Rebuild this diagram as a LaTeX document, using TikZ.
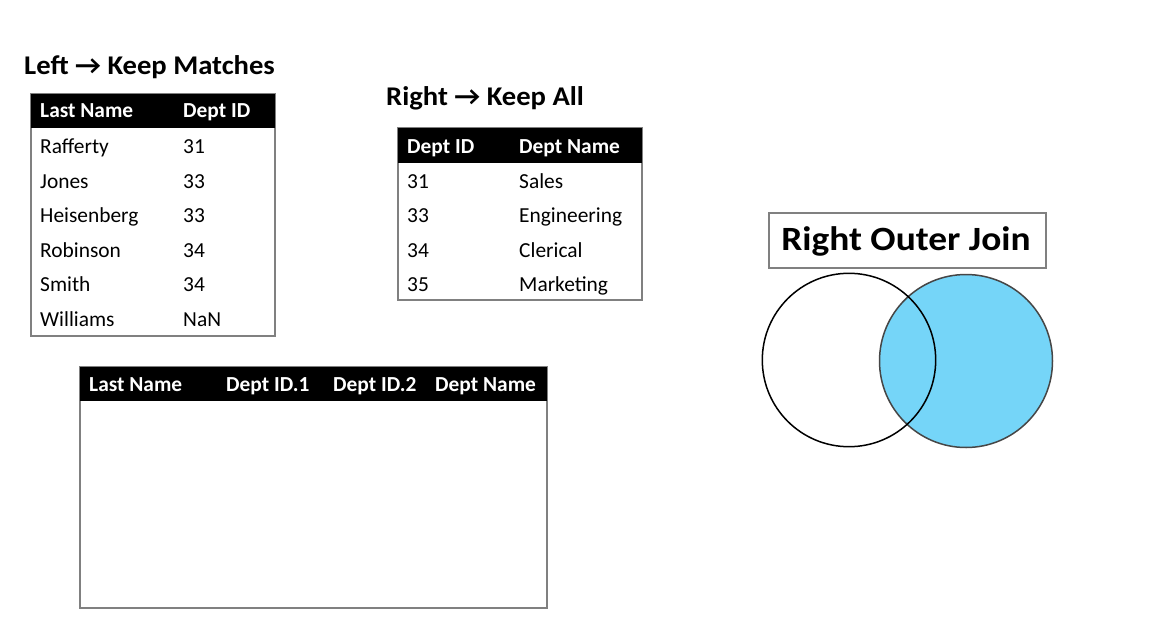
\documentclass[tikz,border=0pt]{standalone}
\usepackage{fontspec}
\setmainfont{Carlito}
\newfontfamily\ttlfont{Carlito}[FakeStretch=1.06]
\newfontfamily\vennfont{Carlito}[FakeStretch=1.1]
\definecolor{tblgray}{RGB}{128,128,128}
\definecolor{vennblue}{RGB}{117,213,248}
\definecolor{venngray}{RGB}{70,70,70}
\begin{document}
\begin{tikzpicture}[x=1pt,y=-1pt,
  cell/.style={anchor=base west,inner sep=0pt,font=\fontsize{21.4}{25}\selectfont},
  headcell/.style={anchor=base west,inner sep=0pt,text=white,font=\fontsize{21.4}{25}\selectfont\bfseries},
  ttl/.style={anchor=base west,inner sep=0pt,font=\ttlfont\fontsize{27}{32}\selectfont\bfseries},
  frame/.style={draw=tblgray,line width=1.2pt},
  headbar/.style={fill=black},
  ]
\useasboundingbox[fill=white] (0,0) rectangle (1152,627);

% ---------- Left table ----------
\node[ttl] (lt) at (24,74) {Left → Keep Matches};
\draw[frame] (31,94) rectangle (275,336);
\fill[headbar] (31,94) rectangle (275,128);
\node[headcell] (lh1) at (40,117) {Last Name};
\node[headcell] (lh2) at (183,117) {Dept ID};
\node[cell] (l11) at (40,153) {Rafferty};   \node[cell] (l12) at (183,153) {31};
\node[cell] (l21) at (40,188) {Jones};      \node[cell] (l22) at (183,188) {33};
\node[cell] (l31) at (40,222) {Heisenberg}; \node[cell] (l32) at (183,222) {33};
\node[cell] (l41) at (40,257) {Robinson};   \node[cell] (l42) at (183,257) {34};
\node[cell] (l51) at (40,291) {Smith};      \node[cell] (l52) at (183,291) {34};
\node[cell] (l61) at (40,326) {Williams};   \node[cell] (l62) at (183,326) {NaN};

% ---------- Right table ----------
\node[ttl] (rt) at (386,105.5) {Right → Keep All};
\draw[frame] (398,128) rectangle (642,300);
\fill[headbar] (398,128) rectangle (642,163);
\node[headcell] (rh1) at (407,153) {Dept ID};
\node[headcell] (rh2) at (519,153) {Dept Name};
\node[cell] (r11) at (407,188) {31}; \node[cell] (r12) at (519,188) {Sales};
\node[cell] (r21) at (407,222) {33}; \node[cell] (r22) at (519,222) {Engineering};
\node[cell] (r31) at (407,257) {34}; \node[cell] (r32) at (519,257) {Clerical};
\node[cell] (r41) at (407,291) {35}; \node[cell] (r42) at (519,291) {Marketing};

% ---------- Result table ----------
\draw[frame] (80,367) rectangle (547,608);
\fill[headbar] (80,367) rectangle (547,401);
\node[headcell] (bh1) at (89,391) {Last Name};
\node[headcell] (bh2) at (226,391) {Dept ID.1};
\node[headcell] (bh3) at (333,391) {Dept ID.2};
\node[headcell] (bh4) at (435,391) {Dept Name};

% ---------- Venn ----------
\draw[draw=tblgray,line width=1.2pt] (769,213) rectangle (1046,268);
\node[anchor=base,inner sep=0pt,font=\vennfont\fontsize{34}{40}\selectfont\bfseries]
  (vt) at (906,250) {Right Outer Join};
\draw[fill=vennblue,draw=venngray,line width=1.5pt] (966,361) circle[radius=86.5];
\draw[black,line width=1.5pt] (849,360) circle[radius=86.7];
\end{tikzpicture}
\end{document}
